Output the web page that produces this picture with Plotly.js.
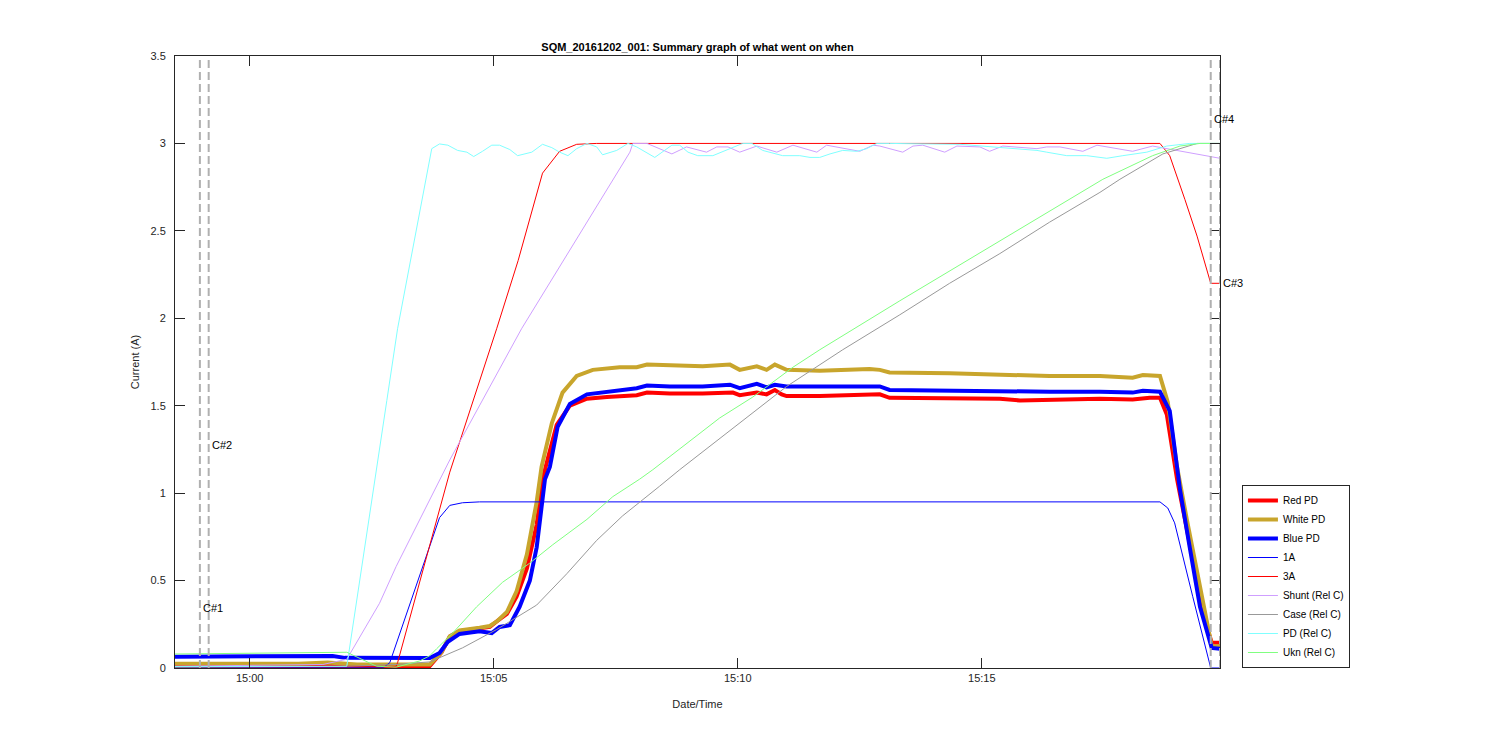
<!DOCTYPE html>
<html><head><meta charset="utf-8">
<script src="https://cdn.plot.ly/plotly-3.0.1.min.js"></script>
<style>html,body{margin:0;padding:0;background:#fff;} #chart{width:1500px;height:750px;}</style>
</head><body><div id="chart"></div>
<script>
// All times are minutes relative to 2016-12-02 15:00:00
const chartTitle = 'SQM_20161202_001: Summary graph of what went on when';
const xRange = [-1.53, 19.88];

const tRedPD = [-1.53, 1.0, 1.6, 2.2, 3.69, 3.93, 4.10, 4.30, 4.71, 4.92, 5.08, 5.27, 5.47, 5.68, 5.88, 6.00, 6.11, 6.29, 6.56, 6.91, 7.32, 7.93, 8.14, 8.61, 9.28, 9.90, 10.04, 10.39, 10.59, 10.76, 10.90, 11.00, 11.68, 12.70, 12.91, 13.11, 14.34, 15.37, 15.78, 16.39, 17.42, 18.09, 18.44, 18.65, 18.79, 19.00, 19.20, 19.41, 19.57, 19.71, 19.88];
const vRedPD = [0.012, 0.012, 0.015, 0.01, 0.012, 0.09, 0.18, 0.21, 0.225, 0.235, 0.27, 0.31, 0.41, 0.57, 0.82, 1.08, 1.2, 1.39, 1.50, 1.54, 1.55, 1.56, 1.575, 1.57, 1.57, 1.575, 1.56, 1.575, 1.565, 1.59, 1.565, 1.555, 1.555, 1.565, 1.565, 1.545, 1.545, 1.54, 1.53, 1.535, 1.54, 1.535, 1.545, 1.545, 1.45, 1.08, 0.79, 0.50, 0.27, 0.145, 0.145];

const tWhitePD = [-1.53, 1.0, 1.6, 2.2, 3.69, 3.93, 4.10, 4.30, 4.71, 4.92, 5.08, 5.27, 5.47, 5.68, 5.88, 5.98, 6.19, 6.41, 6.70, 7.03, 7.58, 7.93, 8.14, 8.61, 9.28, 9.84, 10.04, 10.39, 10.59, 10.76, 11.00, 11.68, 12.70, 12.91, 13.11, 14.34, 15.37, 16.39, 17.42, 18.09, 18.30, 18.65, 18.81, 19.00, 19.20, 19.41, 19.57, 19.71, 19.88];
const vWhitePD = [0.025, 0.025, 0.032, 0.02, 0.02, 0.09, 0.18, 0.215, 0.23, 0.24, 0.27, 0.32, 0.44, 0.65, 0.95, 1.15, 1.40, 1.575, 1.67, 1.705, 1.72, 1.72, 1.735, 1.73, 1.725, 1.735, 1.705, 1.725, 1.705, 1.735, 1.705, 1.70, 1.71, 1.705, 1.69, 1.685, 1.675, 1.67, 1.67, 1.66, 1.675, 1.67, 1.52, 1.15, 0.85, 0.55, 0.30, 0.125, 0.125];

const tBluePD = [-1.53, 0.5, 1.7, 1.95, 3.69, 3.89, 4.06, 4.30, 4.71, 4.96, 5.12, 5.33, 5.53, 5.74, 5.88, 6.05, 6.15, 6.31, 6.56, 6.91, 7.32, 7.93, 8.14, 8.61, 9.28, 9.84, 10.04, 10.39, 10.59, 10.76, 11.00, 11.68, 12.70, 12.91, 13.11, 14.34, 15.37, 16.39, 17.42, 18.09, 18.30, 18.65, 18.85, 19.06, 19.26, 19.47, 19.71, 19.88];
const vBluePD = [0.065, 0.07, 0.068, 0.058, 0.057, 0.086, 0.15, 0.195, 0.21, 0.20, 0.235, 0.245, 0.35, 0.50, 0.69, 1.08, 1.15, 1.38, 1.51, 1.565, 1.58, 1.60, 1.615, 1.61, 1.61, 1.62, 1.60, 1.625, 1.605, 1.62, 1.61, 1.61, 1.615, 1.61, 1.59, 1.585, 1.585, 1.58, 1.58, 1.575, 1.585, 1.58, 1.47, 1.02, 0.69, 0.35, 0.115, 0.11];

const t1A = [-1.53, 2.75, 2.87, 3.89, 4.10, 4.36, 4.71, 18.65, 18.81, 18.95, 19.32, 19.69, 19.88];
const v1A = [0.005, 0.005, 0.03, 0.86, 0.93, 0.945, 0.95, 0.95, 0.915, 0.83, 0.41, 0.0, 0.0];

const t3A = [-1.53, 3.0, 3.03, 4.06, 4.10, 5.06, 5.5, 6.00, 6.35, 6.70, 7.11, 18.65, 18.85, 19.16, 19.41, 19.69, 19.88];
const v3A = [0.01, 0.01, 0.03, 1.08, 1.12, 1.94, 2.33, 2.83, 2.955, 2.995, 3.0, 3.0, 2.93, 2.68, 2.47, 2.2, 2.2];

const tShunt = [-1.53, 1.5, 1.99, 2.66, 3.0, 3.89, 4.10, 5.57, 7.11, 7.44, 7.79, 7.85, 8.14, 8.65, 8.95, 9.36, 9.57, 9.80, 10.04, 10.39, 10.80, 11.13, 11.62, 11.82, 12.50, 12.77, 12.91, 13.38, 13.59, 13.79, 14.24, 14.49, 14.96, 15.16, 15.43, 16.13, 16.33, 16.60, 17.07, 17.36, 18.09, 18.50, 18.79, 19.41, 19.73, 19.88];
const vShunt = [0.01, 0.02, 0.05, 0.37, 0.58, 1.08, 1.19, 1.94, 2.64, 2.79, 2.95, 3.0, 3.0, 2.94, 2.98, 2.95, 2.98, 2.98, 2.95, 2.985, 2.95, 2.99, 2.95, 2.99, 2.955, 2.99, 2.985, 2.95, 2.985, 2.99, 2.95, 2.985, 2.98, 2.955, 2.985, 2.97, 2.98, 2.98, 2.955, 2.99, 2.955, 2.985, 2.97, 2.94, 2.92, 2.915];

const tCase = [-1.53, 2.0, 3.0, 3.69, 4.36, 5.06, 5.88, 6.50, 7.11, 7.64, 8.40, 8.81, 11.00, 12.15, 13.32, 14.34, 15.37, 16.39, 17.42, 17.83, 18.71, 19.41, 19.88];
const vCase = [0.005, 0.01, 0.02, 0.035, 0.115, 0.22, 0.36, 0.54, 0.73, 0.87, 1.04, 1.134, 1.61, 1.82, 2.02, 2.2, 2.37, 2.55, 2.72, 2.795, 2.94, 3.0, 3.0];

const tPD = [-1.53, 1.99, 2.81, 3.03, 3.73, 3.89, 4.06, 4.26, 4.45, 4.59, 4.77, 4.96, 5.12, 5.33, 5.49, 5.78, 6.00, 6.19, 6.35, 6.52, 6.70, 6.91, 7.11, 7.23, 7.52, 7.75, 7.93, 8.30, 8.65, 8.81, 8.98, 9.18, 9.49, 9.90, 10.10, 10.29, 10.51, 10.92, 11.27, 11.48, 11.68, 11.89, 12.15, 12.44, 12.64, 12.85, 13.11, 14.55, 15.16, 16.13, 16.33, 16.74, 17.15, 17.56, 17.89, 18.38, 18.79, 19.26, 19.88];
const vPD = [0.008, 0.01, 1.53, 1.94, 2.97, 2.997, 2.99, 2.96, 2.95, 2.925, 2.955, 2.99, 2.99, 2.965, 2.93, 2.95, 2.995, 2.976, 2.95, 2.93, 2.97, 3.0, 2.98, 2.935, 2.96, 3.0, 2.98, 2.92, 2.99, 2.99, 2.95, 2.93, 2.93, 2.98, 3.0, 3.0, 2.96, 2.93, 2.93, 2.92, 2.92, 2.94, 2.96, 2.955, 2.97, 3.0, 3.0, 2.995, 2.98, 2.96, 2.95, 2.93, 2.93, 2.915, 2.93, 2.95, 2.985, 3.0, 3.0];

const tUkn = [-1.53, 1.0, 1.99, 2.6, 3.0, 3.48, 3.69, 3.83, 4.16, 4.65, 5.18, 5.74, 6.21, 6.91, 7.44, 7.99, 8.26, 9.63, 10.31, 11.13, 11.68, 13.32, 14.34, 15.37, 16.39, 17.48, 18.50, 19.06, 19.47, 19.88];
const vUkn = [0.08, 0.085, 0.09, 0.01, 0.005, 0.04, 0.07, 0.11, 0.20, 0.35, 0.49, 0.60, 0.705, 0.85, 0.98, 1.08, 1.134, 1.43, 1.55, 1.72, 1.82, 2.1, 2.27, 2.44, 2.61, 2.795, 2.93, 2.985, 3.0, 3.0];

const cursorTimes = [-1.02, -0.84, 19.88, 19.69];
const cursorLabels = ['C#1', 'C#2', 'C#3', 'C#4'];
const cursorLabelY = [0.344, 1.277, 2.2, 3.14];

function toDate(m) {
  const ms = Date.UTC(2016, 11, 2, 15, 0, 0) + Math.round(m * 60000);
  return new Date(ms).toISOString().replace('T', ' ').replace('Z', '');
}
const td = arr => arr.map(toDate);

const seriesDefs = [
  {name: 'Red PD', t: tRedPD, v: vRedPD, color: '#ff0000', width: 4},
  {name: 'White PD', t: tWhitePD, v: vWhitePD, color: '#c8a52c', width: 4},
  {name: 'Blue PD', t: tBluePD, v: vBluePD, color: '#0000ff', width: 4},
  {name: '1A', t: t1A, v: v1A, color: '#0000ff', width: 1},
  {name: '3A', t: t3A, v: v3A, color: '#ff0000', width: 1},
  {name: 'Shunt (Rel C)', t: tShunt, v: vShunt, color: '#cf9fff', width: 1},
  {name: 'Case (Rel C)', t: tCase, v: vCase, color: '#999999', width: 1},
  {name: 'PD (Rel C)', t: tPD, v: vPD, color: '#80ffff', width: 1},
  {name: 'Ukn (Rel C)', t: tUkn, v: vUkn, color: '#80ff80', width: 1}
];

const traces = seriesDefs.map(s => ({
  type: 'scatter', mode: 'lines', name: s.name,
  x: td(s.t), y: s.v,
  line: {color: s.color, width: s.width}
}));

const font = {family: 'Arial, "Liberation Sans", Helvetica, sans-serif', size: 11, color: '#262626'};

const shapes = cursorTimes.map(m => ({
  type: 'line', xref: 'x', yref: 'paper', x0: toDate(m), x1: toDate(m), y0: 0, y1: 1,
  line: {color: '#b0b0b0', width: 2, dash: '8px,4px'}, layer: 'above'
}));
const annotations = cursorTimes.map((m, i) => ({
  xref: 'x', yref: 'y', x: toDate(m), y: cursorLabelY[i], text: cursorLabels[i],
  showarrow: false, xanchor: 'left', yanchor: 'middle', xshift: 1,
  font: {family: font.family, size: 11, color: '#000000'}
}));

const layout = {
  width: 1500, height: 750,
  paper_bgcolor: '#ffffff', plot_bgcolor: '#ffffff',
  margin: {l: 175, r: 280, t: 56, b: 82},
  font: font,
  title: {text: '<b>' + chartTitle + '</b>', font: {family: font.family, size: 11, color: '#000000'},
          xref: 'paper', x: 0.5, xanchor: 'center', yref: 'container', y: 1 - 47/750, yanchor: 'middle'},
  showlegend: true,
  legend: {x: 1.021, y: 0, xanchor: 'left', yanchor: 'bottom', bordercolor: '#262626', borderwidth: 1,
           bgcolor: '#ffffff', font: {family: font.family, size: 10, color: '#000000'}, tracegroupgap: 0},
  xaxis: {
    type: 'date', range: [toDate(xRange[0]), toDate(xRange[1])],
    tick0: toDate(0), dtick: 300000, tickformat: '%H:%M',
    showline: true, mirror: 'ticks', linecolor: '#262626', linewidth: 1,
    ticks: 'inside', ticklen: 10, tickcolor: '#262626', tickwidth: 1,
    showgrid: false, zeroline: false, tickfont: font,
    title: {text: 'Date/Time', font: font, standoff: 17}
  },
  yaxis: {
    range: [0, 3.5], dtick: 0.5, tick0: 0,
    showline: true, mirror: 'ticks', linecolor: '#262626', linewidth: 1,
    ticks: 'inside', ticklen: 10, tickcolor: '#262626', tickwidth: 1,
    showgrid: false, zeroline: false, tickfont: font, ticklabelstandoff: 6,
    title: {text: 'Current (A)', font: font, standoff: 8}
  },
  shapes: shapes,
  annotations: annotations
};

Plotly.newPlot('chart', traces, layout, {displayModeBar: false, staticPlot: true});
</script>
</body></html>
